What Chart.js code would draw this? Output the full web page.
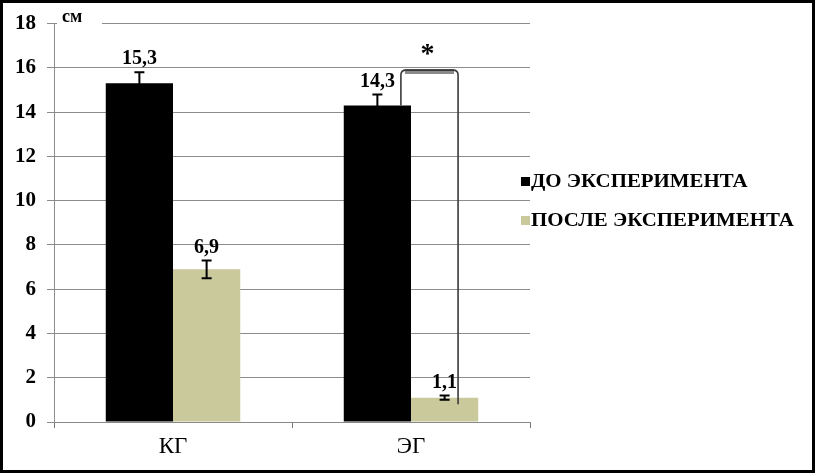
<!DOCTYPE html>
<html><head><meta charset="utf-8">
<script src="https://cdn.jsdelivr.net/npm/chart.js@4"></script>
<style>html,body{margin:0;padding:0;background:#fff;}canvas{display:block;}</style>
</head><body>
<canvas id="c" width="815" height="473" style="width:815px;height:473px"></canvas>
<script>
const categories = ['КГ', 'ЭГ'];
const seriesNames = ['ДО ЭКСПЕРИМЕНТА', 'ПОСЛЕ ЭКСПЕРИМЕНТА'];
const beforeValues = [15.3, 14.3];
const afterValues = [6.9, 1.1];
const beforeErrors = [0.5, 0.5];
const afterErrors = [0.4, 0.1];
const yMin = 0, yMax = 18, yStep = 2;
const unitLabel = 'см';
const bracketValues = [14.3, 15.9, 0.8]; // left end, top, right end
const starLabel = '*';
const seriesColors = ['#000000', '#c9c99b'];
const SERIF = '"Liberation Serif", "DejaVu Serif", serif';

const errors = [beforeErrors, afterErrors];
const fmt = v => String(v).replace('.', ',');

const extras = {
  id: 'extras',
  beforeDraw(chart) {
    const ctx = chart.ctx;
    ctx.save();
    ctx.fillStyle = '#fff';
    ctx.fillRect(0, 0, chart.width, chart.height);
    ctx.restore();
  },
  afterDatasetsDraw(chart) {
    const ctx = chart.ctx;
    const ys = chart.scales.y;
    ctx.save();
    // error bars + labels
    chart.data.datasets.forEach((ds, di) => {
      const meta = chart.getDatasetMeta(di);
      meta.data.forEach((bar, i) => {
        const v = ds.data[i], e = errors[di][i];
        const yT = ys.getPixelForValue(v + e), yB = ys.getPixelForValue(v - e);
        ctx.strokeStyle = '#000';
        ctx.lineWidth = 2;
        ctx.beginPath();
        ctx.moveTo(bar.x, yT); ctx.lineTo(bar.x, yB);
        ctx.moveTo(bar.x - 5, yT); ctx.lineTo(bar.x + 5, yT);
        ctx.moveTo(bar.x - 5, yB); ctx.lineTo(bar.x + 5, yB);
        ctx.stroke();
        ctx.fillStyle = '#000';
        ctx.font = 'bold 20px ' + SERIF;
        ctx.textAlign = 'center';
        ctx.textBaseline = 'bottom';
        ctx.fillText(fmt(v), bar.x, yT - 3);
      });
    });
    // significance bracket
    const b0 = chart.getDatasetMeta(0).data[1];
    const b1 = chart.getDatasetMeta(1).data[1];
    const lx = b0.x + b0.width * 0.35;
    const rx = b1.x + b1.width * 0.2;
    const ly = ys.getPixelForValue(bracketValues[0]);
    const ty = ys.getPixelForValue(bracketValues[1]);
    const ry = ys.getPixelForValue(bracketValues[2]);
    const r = 5;
    ctx.strokeStyle = '#8a8a8a';
    ctx.lineWidth = 5;
    ctx.beginPath();
    ctx.moveTo(lx + r - 1, ty + 1.5); ctx.lineTo(rx - r + 1, ty + 1.5);
    ctx.stroke();
    ctx.strokeStyle = '#3a3a3a';
    ctx.lineWidth = 1.6;
    ctx.beginPath();
    ctx.moveTo(lx, ly);
    ctx.lineTo(lx, ty + r);
    ctx.quadraticCurveTo(lx, ty, lx + r, ty);
    ctx.lineTo(rx - r, ty);
    ctx.quadraticCurveTo(rx, ty, rx, ty + r);
    ctx.lineTo(rx, ry);
    ctx.stroke();
    ctx.fillStyle = '#000';
    ctx.font = 'bold 28px ' + SERIF;
    ctx.textAlign = 'center';
    ctx.textBaseline = 'middle';
    ctx.fillText(starLabel, (lx + rx) / 2 - 2, ty - 15);
    // unit label
    const ca = chart.chartArea;
    ctx.fillStyle = '#fff';
    ctx.fillRect(ca.left + 3, ca.top - 10, 45, 16);
    ctx.fillStyle = '#000';
    ctx.font = 'bold 18px ' + SERIF;
    ctx.textAlign = 'left';
    ctx.textBaseline = 'middle';
    ctx.fillText(unitLabel, ca.left + 8, ca.top - 6);
    // legend
    ctx.font = 'bold 18px ' + SERIF;
    chart.data.datasets.forEach((ds, di) => {
      const cy = 182 + di * 39;
      ctx.fillStyle = ds.backgroundColor;
      ctx.fillRect(521, cy - 5, 9, 9);
      ctx.fillStyle = '#000';
      ctx.textAlign = 'left';
      ctx.textBaseline = 'middle';
      ctx.save();
      ctx.translate(531, cy);
      ctx.scale(1.16, 1);
      ctx.fillText(ds.label, 0, 0);
      ctx.restore();
    });
    // frame
    ctx.strokeStyle = '#000';
    ctx.lineWidth = 3;
    ctx.strokeRect(1.5, 1.5, chart.width - 3, chart.height - 3);
    ctx.restore();
  }
};

new Chart(document.getElementById('c'), {
  type: 'bar',
  data: {
    labels: categories,
    datasets: [
      { label: seriesNames[0], data: beforeValues, backgroundColor: seriesColors[0] },
      { label: seriesNames[1], data: afterValues, backgroundColor: seriesColors[1] }
    ]
  },
  options: {
    responsive: false,
    animation: false,
    devicePixelRatio: 1,
    layout: { padding: { left: 0, right: 285, top: 23, bottom: 0 } },
    datasets: { bar: { categoryPercentage: 0.565, barPercentage: 1.0 } },
    plugins: { legend: { display: false }, tooltip: { enabled: false } },
    scales: {
      x: {
        afterFit(s) { s.height = 51; },
        grid: { display: true, drawOnChartArea: false, tickLength: 6, color: '#777', offset: true },
        border: { color: '#888' },
        ticks: { color: '#000', font: { family: SERIF, size: 23 }, padding: 5 }
      },
      y: {
        min: yMin, max: yMax,
        afterFit(s) { s.width = 54; },
        grid: { color: '#8c8c8c', tickLength: 7 },
        border: { color: '#8c8c8c' },
        ticks: { stepSize: yStep, color: '#000', font: { family: SERIF, size: 21, weight: 'bold' }, padding: 11 }
      }
    }
  },
  plugins: [extras]
});
</script>
</body></html>
